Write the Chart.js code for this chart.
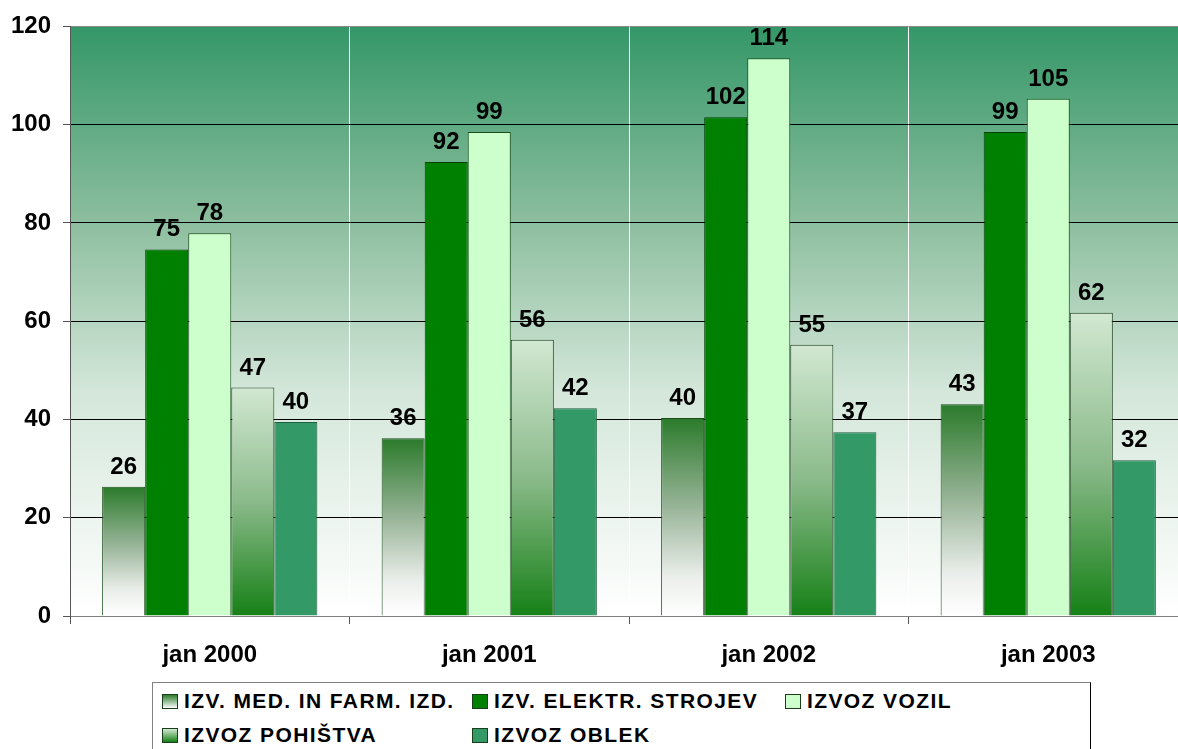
<!DOCTYPE html>
<html>
<head>
<meta charset="utf-8">
<script src="https://cdn.jsdelivr.net/npm/chart.js@4.4.0/dist/chart.umd.min.js"></script>
<style>
  body { margin: 0; background: #fff; overflow: hidden; font-family: Arial, "Liberation Sans", sans-serif; }
  #wrap { position: absolute; left: 0; top: 0; width: 1188px; height: 681px; }
  #legenda { position: absolute; left: 152px; top: 682px; width: 937px; height: 80px;
    border: 1px solid #000; border-top-color: #808080; border-left-color: #808080; background: #fff; }
  .item { position: absolute; display: flex; align-items: center; font-weight: bold; font-size: 21px;
    letter-spacing: 1.4px; line-height: 24px; color: #000; white-space: nowrap; }
  .sw { width: 14px; height: 13px; border: 1px solid #1a3d1a; margin-right: 6px; }
</style>
</head>
<body>
<div id="wrap"><canvas id="graf"></canvas></div>
<div id="legenda"></div>
<script>
const kategorije = ['jan 2000', 'jan 2001', 'jan 2002', 'jan 2003'];
const serije = ['IZV. MED. IN FARM. IZD.', 'IZV. ELEKTR. STROJEV', 'IZVOZ VOZIL', 'IZVOZ POHIŠTVA', 'IZVOZ OBLEK'];
const medFarm = [26.3, 36.2, 40.3, 43.1];
const elektr = [74.6, 92.4, 101.5, 98.5];
const vozila = [77.9, 98.5, 113.5, 105.3];
const pohistvo = [46.5, 56.2, 55.2, 61.7];
const obleke = [39.5, 42.3, 37.4, 31.7];
const yTicks = [0, 20, 40, 60, 80, 100, 120];

// gradient po visini stolpca
function gradStolpec(stops, fallback) {
  return function(c) {
    const chart = c.chart;
    if (!chart.chartArea || c.raw == null) return fallback;
    const y = chart.scales.y;
    const g = chart.ctx.createLinearGradient(0, y.getPixelForValue(c.raw), 0, y.getPixelForValue(0));
    stops.forEach(s => g.addColorStop(s[0], s[1]));
    return g;
  };
}

const ozadje = {
  id: 'ozadje',
  beforeDraw(chart) {
    const a = chart.chartArea, ctx = chart.ctx;
    const g = ctx.createLinearGradient(0, a.top, 0, a.bottom);
    g.addColorStop(0, '#349768');
    g.addColorStop(0.33, '#8cbe9e');
    g.addColorStop(0.62, '#d4e7da');
    g.addColorStop(1, '#ffffff');
    ctx.save();
    ctx.fillStyle = g;
    ctx.fillRect(a.left, a.top, a.right - a.left, a.bottom - a.top);
    ctx.restore();
  }
};

const oznake = {
  id: 'oznake',
  afterDatasetsDraw(chart) {
    const ctx = chart.ctx;
    ctx.save();
    ctx.font = 'bold 24px Arial, "Liberation Sans"';
    ctx.fillStyle = '#000';
    ctx.textAlign = 'center';
    ctx.textBaseline = 'alphabetic';
    chart.data.datasets.forEach((ds, i) => {
      chart.getDatasetMeta(i).data.forEach((el, j) => {
        ctx.fillText(Math.round(ds.data[j]), el.x, el.y - 13);
      });
    });
    ctx.restore();
  }
};

const barve = [
  { bg: gradStolpec([[0, '#2b7b2b'], [0.45, '#98b498'], [0.8, '#eaeeea'], [1, '#ffffff']], '#7fb07f'), border: '#1b4d1b', legend: 'linear-gradient(#2b7b2b, #fff)' },
  { bg: '#008000', border: '#004000', legend: '#008000' },
  { bg: '#ccffcc', border: '#1b4d1b', legend: '#ccffcc' },
  { bg: gradStolpec([[0, '#d2e8d2'], [0.5, '#8aba8a'], [1, '#168016']], '#7fb07f'), border: '#1b3d1b', legend: 'linear-gradient(#d2e8d2, #168016)' },
  { bg: '#339966', border: '#1e5e3e', legend: '#339966' }
];
const vrednosti = [medFarm, elektr, vozila, pohistvo, obleke];

new Chart(document.getElementById('graf').getContext('2d'), {
  type: 'bar',
  data: {
    labels: kategorije,
    datasets: serije.map((s, i) => ({
      label: s,
      data: vrednosti[i],
      backgroundColor: barve[i].bg,
      borderColor: barve[i].border,
      borderWidth: 1,
      categoryPercentage: 0.77,
      barPercentage: 1.0
    }))
  },
  options: {
    responsive: true,
    maintainAspectRatio: false,
    animation: false,
    layout: { padding: { top: 23, right: 0, bottom: 0, left: 0 } },
    plugins: { legend: { display: false }, tooltip: { enabled: false } },
    scales: {
      x: {
        afterFit(s) { s.height = 65; },
        grid: {
          color: c => (c.index === 0 ? 'rgba(0,0,0,0)' : '#ffffff'),
          tickColor: '#555',
          tickLength: 8,
          lineWidth: 1
        },
        border: { color: '#808080' },
        ticks: { color: '#000', padding: 17, font: { family: 'Arial, "Liberation Sans"', size: 24, weight: 'bold' } }
      },
      y: {
        min: 0,
        max: 120,
        afterFit(s) { s.width = 70; },
        afterBuildTicks(s) { s.ticks = yTicks.map(v => ({ value: v })); },
        grid: {
          color: c => (c.tick && (c.tick.value === 120 || c.tick.value === 0) ? '#8a8a8a' : '#000'),
          tickColor: '#555',
          tickLength: 7
        },
        border: { color: '#555' },
        ticks: { color: '#000', padding: 12, font: { family: 'Arial, "Liberation Sans"', size: 24, weight: 'bold' } }
      }
    }
  },
  plugins: [ozadje, oznake]
});

// legenda
const pozicije = [[9, 6], [319, 6], [632, 6], [9, 40], [319, 40]];
const leg = document.getElementById('legenda');
serije.forEach((s, i) => {
  const d = document.createElement('div');
  d.className = 'item';
  d.style.left = pozicije[i][0] + 'px';
  d.style.top = pozicije[i][1] + 'px';
  const sw = document.createElement('span');
  sw.className = 'sw';
  sw.style.background = barve[i].legend;
  d.appendChild(sw);
  d.appendChild(document.createTextNode(s));
  leg.appendChild(d);
});
</script>
</body>
</html>
